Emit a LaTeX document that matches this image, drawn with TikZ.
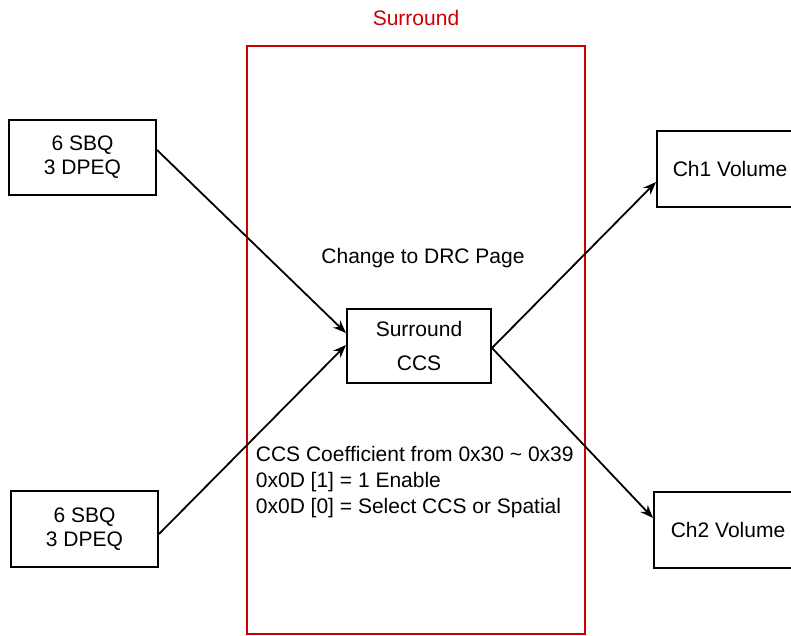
\documentclass[tikz,border=0pt]{standalone}
\usepackage{fontspec}
\setmainfont{Liberation Sans}
\usetikzlibrary{arrows.meta}
\definecolor{surred}{RGB}{204,0,0}
\begin{document}
\begin{tikzpicture}[>={Stealth[length=13pt,width=10pt]}, x=1pt, y=-1pt, line width=1.8pt,
  blk/.style={draw, line width=2pt, align=center, inner sep=0pt, font=\fontsize{21}{24}\selectfont},
  txt/.style={inner sep=0pt, font=\fontsize{21}{26}\selectfont}]
\clip (0,0) rectangle (791,636);
\fill[white] (0,0) rectangle (791,636);
\node[txt, text=surred] (title) at (416,18) {Surround};
\draw[surred, line width=2pt] (247,46) rectangle (585,634);
\node[blk, minimum width=147, minimum height=75] (sbqa) at (82.5,157.5) {6 SBQ\\3 DPEQ};
\node[blk, minimum width=147, minimum height=76] (sbqb) at (84.5,529) {6 SBQ\\3 DPEQ};
\node[blk, minimum width=144, minimum height=74, font=\fontsize{21}{34}\selectfont] (ccs) at (419,346) {Surround\\CCS};
\node[blk, minimum width=146, minimum height=76] (vol1) at (730,169) {Ch1 Volume};
\node[blk, minimum width=148, minimum height=76] (vol2) at (728,530) {Ch2 Volume};
\node[txt] (drc) at (423,258) {Change to DRC Page};
\node[txt, anchor=north west, align=left] (coef) at (255,445) {CCS Coefficient from 0x30 \textasciitilde{} 0x39\\0x0D [1] = 1 Enable\\0x0D [0] = Select CCS or Spatial};
\draw[->] ([yshift=7.5]sbqa.east) -- ([yshift=13]ccs.west);
\draw[->] ([yshift=-5]sbqb.east) -- ([yshift=1]ccs.west);
\draw[->] ([yshift=-2]ccs.east) -- ([yshift=-13]vol1.west);
\draw[->] ([yshift=-2]ccs.east) -- ([yshift=12]vol2.west);
\end{tikzpicture}
\end{document}
